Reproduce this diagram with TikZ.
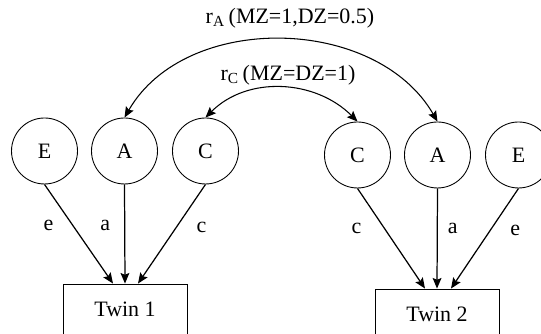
\documentclass[tikz,border=0pt]{standalone}
\usepackage{fontspec}
\setmainfont{Liberation Serif}
\usetikzlibrary{arrows.meta, positioning}
\tikzset{
  % Latent factor circle
  LV/.style={circle,draw=black,minimum size=1.32cm,inner sep=0pt,
             font=\fontsize{12.5}{14}\selectfont,line width=0.5pt},
  % Observed twin box
  OB/.style={rectangle,draw=black,minimum width=2.48cm,minimum height=1.0cm,
             font=\fontsize{12.5}{14}\selectfont,line width=0.5pt},
  % Path labels
  PL/.style={font=\fontsize{12.5}{14}\selectfont,inner sep=1pt},
  % Arrows
  Arr/.style ={-{Stealth[length=6pt,width=5pt,inset=1pt]},line width=0.7pt},
  DArr/.style={{Stealth[length=6pt,width=5pt,inset=1pt]}-{Stealth[length=6pt,width=5pt,inset=1pt]},
               line width=0.6pt},
}
\begin{document}
\begin{tikzpicture}
      \useasboundingbox (0,0) rectangle (10.82,6.68);
      % Twin 1 factors
      \node[LV] at (0.89,3.66) (eL) {E};
      \node[LV] at (2.49,3.66) (aL) {A};
      \node[LV] at (4.11,3.66) (cL) {C};
      % Twin 2 factors
      \node[LV] at (7.15,3.58) (cR) {C};
      \node[LV] at (8.75,3.58) (aR) {A};
      \node[LV] at (10.37,3.58) (eR) {E};
      % Observed twins
      \node[OB] at (2.50,0.50) (t1) {Twin 1};
      \node[OB] at (8.74,0.40) (t2) {Twin 2};
      % Paths to Twin 1
      \draw[Arr] (eL.south) -- ([xshift=-0.24cm]t1.north)
            node[PL,pos=0.41,xshift=-0.48cm]{e};
      \draw[Arr] (aL.south) -- (t1.north)
            node[PL,pos=0.41,xshift=-0.39cm]{a};
      \draw[Arr] (cL.south) -- ([xshift=0.26cm]t1.north)
            node[PL,pos=0.43,xshift=0.50cm]{c};
      % Paths to Twin 2
      \draw[Arr] (cR.south) -- ([xshift=-0.24cm]t2.north)
            node[PL,pos=0.40,xshift=-0.56cm]{c};
      \draw[Arr] (aR.south) -- (t2.north)
            node[PL,pos=0.40,xshift=0.31cm]{a};
      \draw[Arr] (eR.south) -- ([xshift=0.28cm]t2.north)
            node[PL,pos=0.42,xshift=0.50cm]{e};
      % Correlations
      \draw[DArr] (aL.north) to[out=60,in=120] (aR.north);
      \draw[DArr] (cL.north) to[out=45,in=135] (cR.north);
      \node[PL] at (5.80,6.32) (ra) {r\textsubscript{A}\,(MZ=1,DZ=0.5)};
      \node[PL] at (5.76,5.18) (rc) {r\textsubscript{C}\,(MZ=DZ=1)};
    \end{tikzpicture}
\end{document}
